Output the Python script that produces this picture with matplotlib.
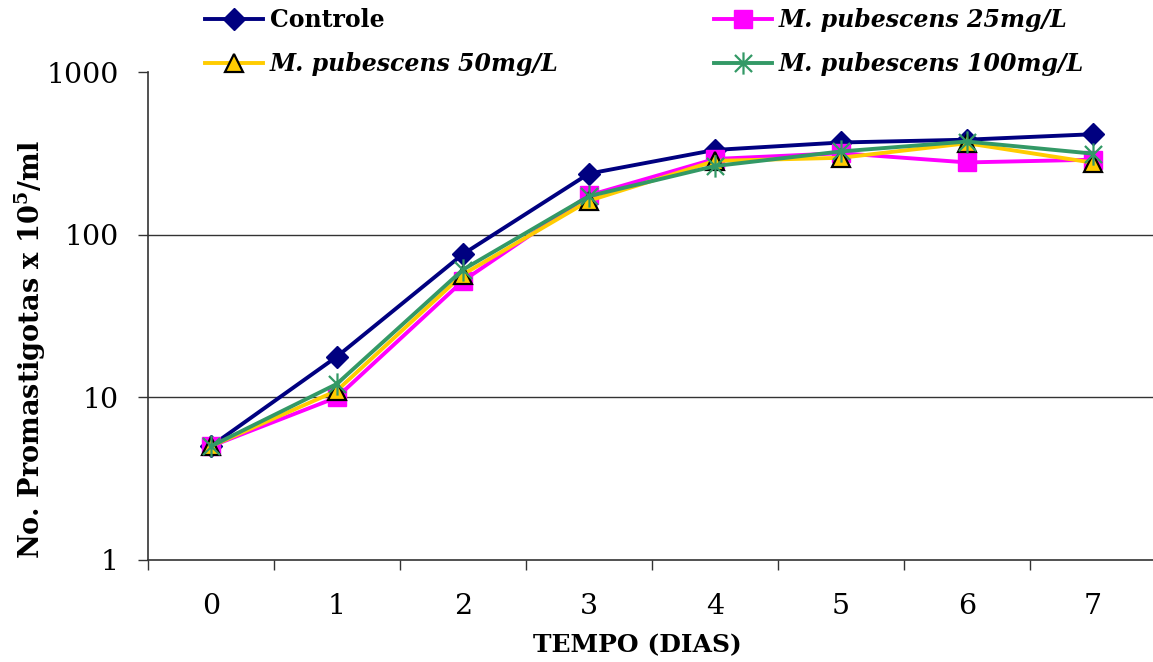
import matplotlib
matplotlib.use("Agg")
import matplotlib.pyplot as plt
from matplotlib.path import Path
from matplotlib.ticker import FixedLocator, NullFormatter, FixedFormatter

dias = [0, 1, 2, 3, 4, 5, 6, 7]
dias_labels = ["0", "1", "2", "3", "4", "5", "6", "7"]
controle = [5.0, 17.8, 76, 238, 333, 370, 385, 416]
m25 = [5.0, 10.0, 52, 175, 293, 318, 279, 290]
m50 = [5.0, 11.0, 57, 162, 285, 298, 366, 278]
m100 = [5.0, 12.1, 61, 173, 265, 326, 375, 316]
yticks = [1, 10, 100, 1000]
ytick_labels = ["1", "10", "100", "1000"]

plt.rcParams['font.family'] = ['DejaVu Serif']
plt.rcParams['mathtext.fontset'] = 'dejavuserif'

W, H = 1153, 662
fig = plt.figure(figsize=(W / 100, H / 100), dpi=100)
ax = fig.add_axes([147.7 / W, 1 - 560 / H, 1008.3 / W, (560 - 72.3) / H])

star = Path([(-1, -1), (1, 1), (-1, 1), (1, -1), (0, -1.3), (0, 1.3)],
            [Path.MOVETO, Path.LINETO, Path.MOVETO, Path.LINETO, Path.MOVETO, Path.LINETO])

lw = 2.8
h1, = ax.plot(dias, controle, color='#000080', lw=lw, marker='D', ms=11,
              mfc='#000080', mec='#000080', label='Controle', zorder=3)
h2, = ax.plot(dias, m25, color='#FF00FF', lw=lw, marker='s', ms=12.5,
              mfc='#FF00FF', mec='#FF00FF', label='M. pubescens 25mg/L', zorder=4)
h3, = ax.plot(dias, m50, color='#FFCC00', lw=lw, marker='^', ms=13,
              mfc='#FFCC00', mec='black', mew=1.6, label='M. pubescens 50mg/L', zorder=5)
h4, = ax.plot(dias, m100, color='#339966', lw=lw, marker=star, ms=16,
              mfc='none', mec='#339966', mew=1.6, label='M. pubescens 100mg/L', zorder=6)

ax.set_yscale('log')
ax.set_ylim(1, 1000)
ax.set_xlim(-0.5, 7.5)
ax.yaxis.set_major_locator(FixedLocator(yticks))
ax.yaxis.set_major_formatter(FixedFormatter(ytick_labels))
ax.yaxis.set_minor_locator(FixedLocator([]))
ax.yaxis.set_minor_formatter(NullFormatter())
ax.set_xticks(dias)
ax.set_xticklabels(dias_labels)
ax.set_xticks([d + 0.5 for d in dias[:-1]] + [-0.5], minor=True)

for yv in [10, 100]:
    ax.axhline(yv, color='#333333', lw=1.0, zorder=1)

for s in ['top', 'right']:
    ax.spines[s].set_visible(False)
for s in ['left', 'bottom']:
    ax.spines[s].set_color('#333333')
    ax.spines[s].set_linewidth(1.2)

ax.tick_params(axis='y', which='major', direction='out', length=7, width=1.0,
               labelsize=20.5, pad=14, color='#333333')
ax.tick_params(axis='x', which='major', length=0, labelsize=20.5, pad=24)
ax.tick_params(axis='x', which='minor', direction='out', length=7, width=1.0, color='#333333')

fig.text(637 / W, 1 - 645 / H, 'TEMPO (DIAS)', ha='center', va='center',
         fontsize=18, fontweight='bold')
fig.text(30 / W, 1 - 350 / H, r'No. Promastigotas x 10$^{\mathbf{5}}$/ml', ha='center', va='center',
         rotation=90, fontsize=19.5, fontweight='bold')

leg_kw = dict(frameon=False, loc='upper left', borderpad=0, borderaxespad=0,
              handlelength=2.45, handletextpad=0.3, labelspacing=0.85,
              prop={'size': 17, 'weight': 'bold'})
leg1 = fig.legend([h1, h3], ['Controle', 'M. pubescens 50mg/L'],
                  bbox_to_anchor=(205 / W, 1 - 8 / H), **leg_kw)
leg2 = fig.legend([h2, h4], ['M. pubescens 25mg/L', 'M. pubescens 100mg/L'],
                  bbox_to_anchor=(714 / W, 1 - 8 / H), **leg_kw)
for t in leg1.get_texts()[1:]:
    t.set_style('italic')
for t in leg2.get_texts():
    t.set_style('italic')

fig.savefig('out.png', dpi=100)
